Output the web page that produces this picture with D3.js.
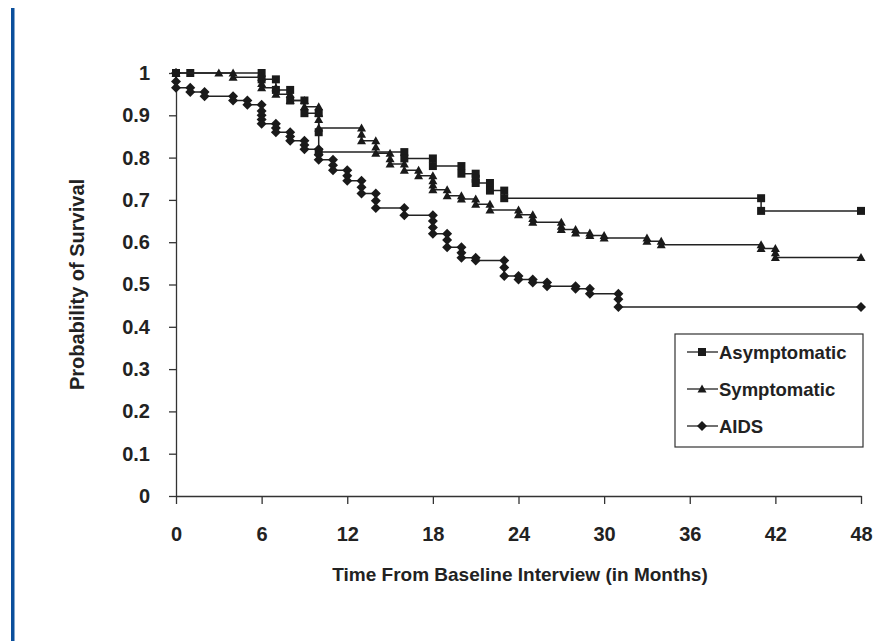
<!DOCTYPE html>
<html>
<head>
<meta charset="utf-8">
<script src="https://cdn.jsdelivr.net/npm/d3@7"></script>
<style>
  body { margin: 0; background: #fff; }
  svg { display: block; font-family: "Liberation Sans", Arial, sans-serif; }
  .axis text { font-size: 20px; font-weight: bold; fill: #222; }
  .axis path, .axis line { stroke: #333; stroke-width: 1.3px; }
</style>
</head>
<body>
<svg width="881" height="641"></svg>
<script>
var width = 881;
var height = 641;

// survival estimates, one point per marker (stacked points = several deaths at one time)
var asymMonths = [0, 1, 6, 6, 7, 7, 8, 8, 9, 9, 10, 10, 10, 16, 16, 18, 18, 20, 20, 21, 21, 21, 22, 22, 23, 23, 41, 41, 48];
var asymSurv = [1, 1, 1, 0.985, 0.985, 0.96, 0.96, 0.935, 0.935, 0.905, 0.905, 0.86, 0.813, 0.813, 0.798, 0.798, 0.78, 0.78, 0.762, 0.762, 0.75, 0.74, 0.74, 0.722, 0.722, 0.704, 0.704, 0.674, 0.674];

var sympMonths = [0, 3, 4, 4, 6, 6, 6, 7, 7, 8, 8, 9, 9, 10, 10, 10, 10, 13, 13, 13, 14, 14, 14, 15, 15, 15, 16, 16, 17, 17, 18, 18, 18, 18, 19, 19, 20, 20, 21, 21, 22, 22, 24, 24, 25, 25, 25, 27, 27, 27, 28, 28, 29, 29, 30, 30, 33, 33, 34, 34, 41, 41, 42, 42, 42, 48];
var sympSurv = [1, 1, 1, 0.99, 0.99, 0.975, 0.965, 0.965, 0.95, 0.95, 0.935, 0.935, 0.92, 0.92, 0.905, 0.89, 0.87, 0.87, 0.855, 0.84, 0.84, 0.825, 0.81, 0.81, 0.797, 0.785, 0.785, 0.77, 0.77, 0.757, 0.757, 0.745, 0.735, 0.724, 0.724, 0.71, 0.71, 0.702, 0.702, 0.69, 0.69, 0.676, 0.676, 0.665, 0.665, 0.656, 0.647, 0.647, 0.638, 0.63, 0.63, 0.622, 0.622, 0.616, 0.616, 0.61, 0.61, 0.602, 0.602, 0.594, 0.594, 0.585, 0.585, 0.575, 0.564, 0.564];

var aidsMonths = [0, 0, 0, 1, 1, 2, 2, 4, 4, 5, 5, 6, 6, 6, 6, 6, 7, 7, 7, 8, 8, 8, 9, 9, 9, 10, 10, 10, 11, 11, 11, 12, 12, 12, 13, 13, 13, 14, 14, 14, 16, 16, 18, 18, 18, 18, 19, 19, 19, 20, 20, 20, 21, 21, 23, 23, 23, 24, 24, 25, 25, 26, 26, 28, 28, 29, 29, 31, 31, 31, 48];
var aidsSurv = [1, 0.98, 0.965, 0.965, 0.955, 0.955, 0.945, 0.945, 0.935, 0.935, 0.925, 0.925, 0.91, 0.9, 0.89, 0.88, 0.88, 0.87, 0.86, 0.86, 0.85, 0.84, 0.84, 0.83, 0.82, 0.82, 0.807, 0.795, 0.795, 0.782, 0.77, 0.77, 0.757, 0.745, 0.745, 0.73, 0.715, 0.715, 0.698, 0.681, 0.681, 0.664, 0.664, 0.65, 0.635, 0.62, 0.62, 0.605, 0.588, 0.588, 0.575, 0.563, 0.563, 0.557, 0.557, 0.54, 0.52, 0.52, 0.512, 0.512, 0.505, 0.505, 0.496, 0.496, 0.49, 0.49, 0.478, 0.478, 0.465, 0.447, 0.447];

var seriesNames = ["Asymptomatic", "Symptomatic", "AIDS"];
var seriesMarkers = ["square", "triangle", "diamond"];
var xTicks = [0, 6, 12, 18, 24, 30, 36, 42, 48];
var yTicks = [0, 0.1, 0.2, 0.3, 0.4, 0.5, 0.6, 0.7, 0.8, 0.9, 1];

var series = [
  { name: seriesNames[0], marker: seriesMarkers[0], pts: d3.zip(asymMonths, asymSurv) },
  { name: seriesNames[1], marker: seriesMarkers[1], pts: d3.zip(sympMonths, sympSurv) },
  { name: seriesNames[2], marker: seriesMarkers[2], pts: d3.zip(aidsMonths, aidsSurv) }
];

var x = d3.scaleLinear().domain([0, 48]).range([176, 861]);
var y = d3.scaleLinear().domain([0, 1]).range([496, 73]);

var svg = d3.select("svg");

// blue rule on the left edge
svg.append("rect")
  .attr("x", 11).attr("y", 8)
  .attr("width", 3.5).attr("height", height - 8)
  .attr("fill", "#0b4f9c");

var markerPath = {
  square: "M-4,-4H4V4H-4Z",
  triangle: "M0,-4.5L4.5,3.5H-4.5Z",
  diamond: "M0,-5L5,0L0,5L-5,0Z"
};

// axes
var xAxis = svg.append("g")
  .attr("class", "axis")
  .attr("transform", "translate(0," + y(0) + ")")
  .call(d3.axisBottom(x).tickValues(xTicks).tickSize(8).tickSizeOuter(0));

xAxis.selectAll("text").attr("y", 45).attr("dy", 0);

var yAxis = svg.append("g")
  .attr("class", "axis")
  .attr("transform", "translate(" + x(0) + ",0)")
  .call(d3.axisLeft(y).tickValues(yTicks).tickSize(7).tickSizeOuter(0).tickPadding(19)
    .tickFormat(function(d) { return d === 0 || d === 1 ? d : d.toFixed(1); }));

svg.append("text")
  .attr("transform", "translate(84," + y(0.5) + ") rotate(-90)")
  .attr("text-anchor", "middle")
  .style("font-size", "20px").style("font-weight", "bold").style("fill", "#222")
  .text("Probability of Survival");

svg.append("text")
  .attr("x", 520).attr("y", 581)
  .attr("text-anchor", "middle")
  .style("font-size", "19px").style("font-weight", "bold").style("fill", "#222")
  .text("Time From Baseline Interview (in Months)");

// curves
var line = d3.line()
  .x(function(d) { return x(d[0]); })
  .y(function(d) { return y(d[1]); });

var groups = svg.append("g").selectAll("g")
  .data(series)
  .enter()
  .append("g");

groups.append("path")
  .attr("d", function(d) { return line(d.pts); })
  .attr("fill", "none")
  .attr("stroke", "#222")
  .attr("stroke-width", 1.5);

groups.each(function(s) {
  d3.select(this).selectAll("path.mark")
    .data(s.pts)
    .enter()
    .append("path")
    .attr("class", "mark")
    .attr("d", markerPath[s.marker])
    .attr("transform", function(d) { return "translate(" + x(d[0]) + "," + y(d[1]) + ")"; })
    .attr("fill", "#1a1a1a");
});

// legend
var legend = svg.append("g").attr("transform", "translate(675,334)");
legend.append("rect")
  .attr("width", 188).attr("height", 113)
  .attr("fill", "#fff").attr("stroke", "#333").attr("stroke-width", 1.2);

series.forEach(function(s, i) {
  var row = legend.append("g").attr("transform", "translate(0," + (18 + i * 37) + ")");
  row.append("line")
    .attr("x1", 12).attr("x2", 43)
    .attr("stroke", "#222").attr("stroke-width", 1.3);
  row.append("path")
    .attr("d", markerPath[s.marker])
    .attr("transform", "translate(27,0)")
    .attr("fill", "#1a1a1a");
  row.append("text")
    .attr("x", 44).attr("y", 6.5)
    .style("font-size", "18.5px").style("font-weight", "bold").style("fill", "#222")
    .text(s.name);
});
</script>
</body>
</html>
